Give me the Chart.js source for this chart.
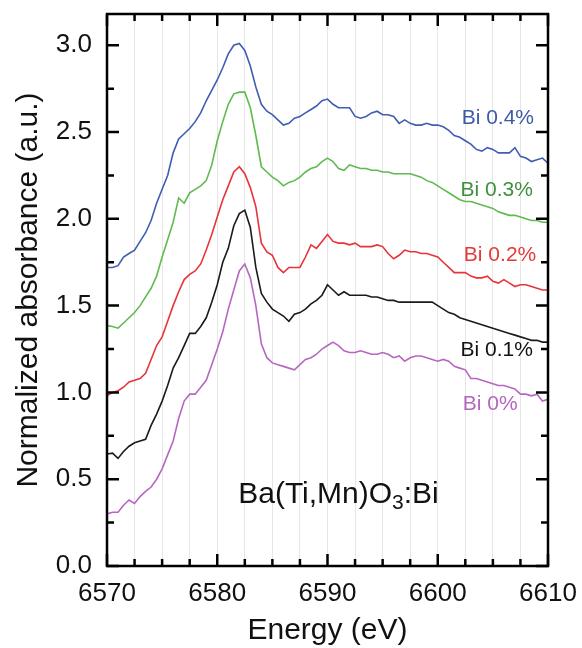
<!DOCTYPE html>
<html>
<head>
<meta charset="utf-8">
<title>Ba(Ti,Mn)O3:Bi XANES</title>
<script src="https://cdn.jsdelivr.net/npm/chart.js@4.4.1/dist/chart.umd.min.js"></script>
<style>
  html, body { margin: 0; padding: 0; background: #fff; }
  #wrap { width: 582px; height: 648px; }
</style>
</head>
<body>
<div id="wrap"><canvas id="xanes" width="582" height="648"></canvas></div>
<script>
// values, 0.5 eV apart
const energy = [
  6570, 6570.5, 6571, 6571.5, 6572, 6572.5, 6573, 6573.5, 6574, 6574.5,
  6575, 6575.5, 6576, 6576.5, 6577, 6577.5, 6578, 6578.5, 6579, 6579.5,
  6580, 6580.5, 6581, 6581.5, 6582, 6582.5, 6583, 6583.5, 6584, 6584.5,
  6585, 6585.5, 6586, 6586.5, 6587, 6587.5, 6588, 6588.5, 6589, 6589.5,
  6590, 6590.5, 6591, 6591.5, 6592, 6592.5, 6593, 6593.5, 6594, 6594.5,
  6595, 6595.5, 6596, 6596.5, 6597, 6597.5, 6598, 6598.5, 6599, 6599.5,
  6600, 6600.5, 6601, 6601.5, 6602, 6602.5, 6603, 6603.5, 6604, 6604.5,
  6605, 6605.5, 6606, 6606.5, 6607, 6607.5, 6608, 6608.5, 6609, 6609.5,
  6610
];

const bi04 = [
  1.72, 1.72, 1.73, 1.78, 1.80, 1.82, 1.87, 1.92, 1.99, 2.09,
  2.17, 2.25, 2.38, 2.46, 2.49, 2.52, 2.56, 2.61, 2.68, 2.74,
  2.80, 2.87, 2.95, 3.00, 3.01, 2.97, 2.88, 2.76, 2.66, 2.62,
  2.60, 2.57, 2.54, 2.55, 2.58, 2.59, 2.61, 2.63, 2.65, 2.68,
  2.69, 2.66, 2.64, 2.64, 2.64, 2.59, 2.58, 2.59, 2.61, 2.62,
  2.60, 2.60, 2.59, 2.55, 2.57, 2.55, 2.54, 2.54, 2.55, 2.54,
  2.54, 2.53, 2.51, 2.48, 2.47, 2.45, 2.43, 2.40, 2.39, 2.41,
  2.40, 2.38, 2.38, 2.38, 2.41, 2.36, 2.35, 2.33, 2.34, 2.35,
  2.32
];

const bi03 = [
  1.385, 1.38, 1.37, 1.40, 1.43, 1.46, 1.50, 1.55, 1.60, 1.67,
  1.78, 1.88, 1.98, 2.12, 2.09, 2.15, 2.17, 2.19, 2.22, 2.31,
  2.45, 2.56, 2.66, 2.72, 2.73, 2.73, 2.64, 2.48, 2.30, 2.27,
  2.24, 2.22, 2.19, 2.21, 2.22, 2.24, 2.27, 2.29, 2.30, 2.33,
  2.35, 2.33, 2.29, 2.28, 2.31, 2.30, 2.29, 2.29, 2.28, 2.28,
  2.27, 2.27, 2.26, 2.26, 2.26, 2.26, 2.25, 2.24, 2.22, 2.21,
  2.19, 2.17, 2.15, 2.13, 2.11, 2.10, 2.10, 2.09, 2.08, 2.07,
  2.06, 2.04, 2.03, 2.02, 2.02, 2.01, 2.00, 1.99, 1.99, 1.98,
  1.98
];

const bi02 = [
  0.98, 1.00, 1.01, 1.03, 1.06, 1.07, 1.08, 1.11, 1.19, 1.27,
  1.32, 1.41, 1.50, 1.58, 1.65, 1.68, 1.70, 1.74, 1.82, 1.91,
  2.01, 2.11, 2.19, 2.27, 2.30, 2.26, 2.18, 2.07, 1.86, 1.81,
  1.79, 1.72, 1.69, 1.72, 1.72, 1.72, 1.78, 1.85, 1.83, 1.87,
  1.91, 1.87, 1.86, 1.86, 1.85, 1.86, 1.84, 1.84, 1.84, 1.85,
  1.84, 1.80, 1.77, 1.79, 1.82, 1.81, 1.81, 1.80, 1.80, 1.79,
  1.78, 1.75, 1.72, 1.69, 1.69, 1.69, 1.67, 1.66, 1.66, 1.67,
  1.64, 1.63, 1.65, 1.63, 1.61, 1.62, 1.62, 1.61, 1.60, 1.59,
  1.59
];

const bi01 = [
  0.645, 0.65, 0.62, 0.66, 0.69, 0.71, 0.72, 0.73, 0.81, 0.875,
  0.95, 1.04, 1.14, 1.20, 1.27, 1.34, 1.34, 1.38, 1.43, 1.52,
  1.62, 1.75, 1.83, 1.96, 2.03, 2.05, 1.95, 1.72, 1.57, 1.52,
  1.48, 1.46, 1.44, 1.41, 1.45, 1.46, 1.48, 1.51, 1.53, 1.56,
  1.62, 1.59, 1.56, 1.58, 1.56, 1.56, 1.56, 1.56, 1.55, 1.55,
  1.54, 1.53, 1.53, 1.52, 1.52, 1.52, 1.52, 1.52, 1.52, 1.52,
  1.50, 1.48, 1.46, 1.45, 1.43, 1.42, 1.41, 1.40, 1.39, 1.38,
  1.37, 1.36, 1.35, 1.34, 1.33, 1.32, 1.31, 1.30, 1.30, 1.29,
  1.29
];

const bi00 = [
  0.30, 0.31, 0.31, 0.35, 0.38, 0.36, 0.40, 0.43, 0.455, 0.50,
  0.56, 0.64, 0.72, 0.85, 0.95, 0.99, 0.99, 1.03, 1.07, 1.16,
  1.25, 1.35, 1.48, 1.59, 1.70, 1.74, 1.66, 1.50, 1.28, 1.20,
  1.17, 1.16, 1.15, 1.14, 1.13, 1.16, 1.19, 1.20, 1.22, 1.25,
  1.27, 1.29, 1.27, 1.24, 1.23, 1.23, 1.24, 1.23, 1.22, 1.22,
  1.23, 1.22, 1.20, 1.21, 1.18, 1.20, 1.21, 1.21, 1.20, 1.19,
  1.18, 1.19, 1.18, 1.15, 1.14, 1.13, 1.08, 1.08, 1.07, 1.06,
  1.05, 1.04, 1.04, 1.03, 1.02, 0.99, 0.99, 0.98, 0.99, 0.95,
  0.96
];

const seriesNames = ['Bi 0.4%', 'Bi 0.3%', 'Bi 0.2%', 'Bi 0.1%', 'Bi 0%'];
const lineColors = ['#3f5eb0', '#5fba4f', '#e8333a', '#1a1a1a', '#b767c2'];
const textColors = ['#3c5aa8', '#3f8f3f', '#e33a3a', '#111111', '#b466c0'];
const allSeries = [bi04, bi03, bi02, bi01, bi00];

const FONT = "'Liberation Sans', Arial, sans-serif";

function toPoints(vals) {
  return vals.map((v, i) => ({ x: energy[i], y: v }));
}

// no extra room for overhanging labels, layout.padding decides the plot box
function noOverhang(s) {
  s.paddingTop = 0;
  s.paddingBottom = 0;
  s.paddingLeft = 0;
  s.paddingRight = 0;
}

// inward ticks on all four sides + black frame
const frameTicks = {
  id: 'frameTicks',
  afterDraw(chart) {
    const { ctx, chartArea: a, scales: { x, y } } = chart;
    ctx.save();
    ctx.strokeStyle = '#000';
    ctx.lineWidth = 2.5;
    ctx.beginPath();
    x.ticks.forEach(t => {
      const px = x.getPixelForValue(t.value);
      const len = t.value % 10 === 0 ? 12 : 7;
      ctx.moveTo(px, a.bottom); ctx.lineTo(px, a.bottom - len);
      ctx.moveTo(px, a.top); ctx.lineTo(px, a.top + len);
    });
    y.ticks.forEach(t => {
      const py = y.getPixelForValue(t.value);
      const len = isMajorY(t.value) ? 12 : 7;
      ctx.moveTo(a.left, py); ctx.lineTo(a.left + len, py);
      ctx.moveTo(a.right, py); ctx.lineTo(a.right - len, py);
    });
    ctx.stroke();
    ctx.strokeRect(a.left, a.top, a.right - a.left, a.bottom - a.top);
    ctx.restore();
  }
};

// series labels and the compound name
const annotations = {
  id: 'annotations',
  afterDatasetsDraw(chart) {
    const { ctx, scales: { x, y } } = chart;
    const spots = [[6605.45, 2.58], [6605.35, 2.165], [6605.65, 1.79], [6605.35, 1.246], [6604.75, 0.934]];
    ctx.save();
    ctx.font = '21px ' + FONT;
    ctx.textAlign = 'center';
    ctx.textBaseline = 'middle';
    seriesNames.forEach((name, i) => {
      ctx.fillStyle = textColors[i];
      ctx.fillText(name, x.getPixelForValue(spots[i][0]), y.getPixelForValue(spots[i][1]));
    });

    let px = x.getPixelForValue(6581.9);
    const base = y.getPixelForValue(0.361);
    ctx.fillStyle = '#111';
    ctx.textAlign = 'left';
    ctx.textBaseline = 'alphabetic';
    ctx.font = '30px ' + FONT;
    ctx.fillText('Ba(Ti,Mn)O', px, base);
    px += ctx.measureText('Ba(Ti,Mn)O').width;
    ctx.font = '21px ' + FONT;
    ctx.fillText('3', px, base + 6);
    px += ctx.measureText('3').width;
    ctx.font = '30px ' + FONT;
    ctx.fillText(':Bi', px, base);
    ctx.restore();
  }
};

const isMajorY = v => Math.abs(v * 2 - Math.round(v * 2)) < 1e-6;

const ctx = document.getElementById('xanes').getContext('2d');
const xanesChart = new Chart(ctx, {
  type: 'line',
  data: {
    datasets: allSeries.map((vals, i) => ({
      label: seriesNames[i],
      data: toPoints(vals),
      borderColor: lineColors[i],
      borderWidth: 1.6,
      pointRadius: 0,
      tension: 0,
      fill: false
    }))
  },
  options: {
    responsive: false,
    animation: false,
    devicePixelRatio: 1,
    layout: { padding: { left: 14, right: 34, top: 14, bottom: 2 } },
    plugins: {
      legend: { display: false },
      tooltip: { enabled: false }
    },
    scales: {
      x: {
        type: 'linear',
        min: 6570,
        max: 6610,
        afterFit: s => { s.height = 80; noOverhang(s); },
        ticks: {
          stepSize: 2.5,
          autoSkip: false,
          maxRotation: 0,
          includeBounds: false,
          padding: 12,
          color: '#111',
          font: { family: FONT, size: 26 },
          callback: v => (v % 10 === 0 ? v : '')
        },
        grid: { color: '#e6e6e6', lineWidth: 1, drawTicks: false },
        border: { display: false },
        title: {
          display: true,
          text: 'Energy (eV)',
          color: '#111',
          font: { family: FONT, size: 30, lineHeight: 1 },
          padding: { top: 0, bottom: 0 }
        }
      },
      y: {
        min: 0,
        max: 3.18,
        afterFit: s => { s.width = 93; noOverhang(s); },
        ticks: {
          stepSize: 0.25,
          includeBounds: false,
          padding: 15,
          color: '#111',
          font: { family: FONT, size: 26 },
          callback: v => (isMajorY(v) ? v.toFixed(1) : '')
        },
        grid: { display: false, drawTicks: false },
        border: { display: false },
        title: {
          display: true,
          text: 'Normalized absorbance (a.u.)',
          color: '#111',
          font: { family: FONT, size: 30, lineHeight: 1 },
          padding: { top: 0, bottom: 0 }
        }
      }
    }
  },
  plugins: [frameTicks, annotations]
});
</script>
</body>
</html>
